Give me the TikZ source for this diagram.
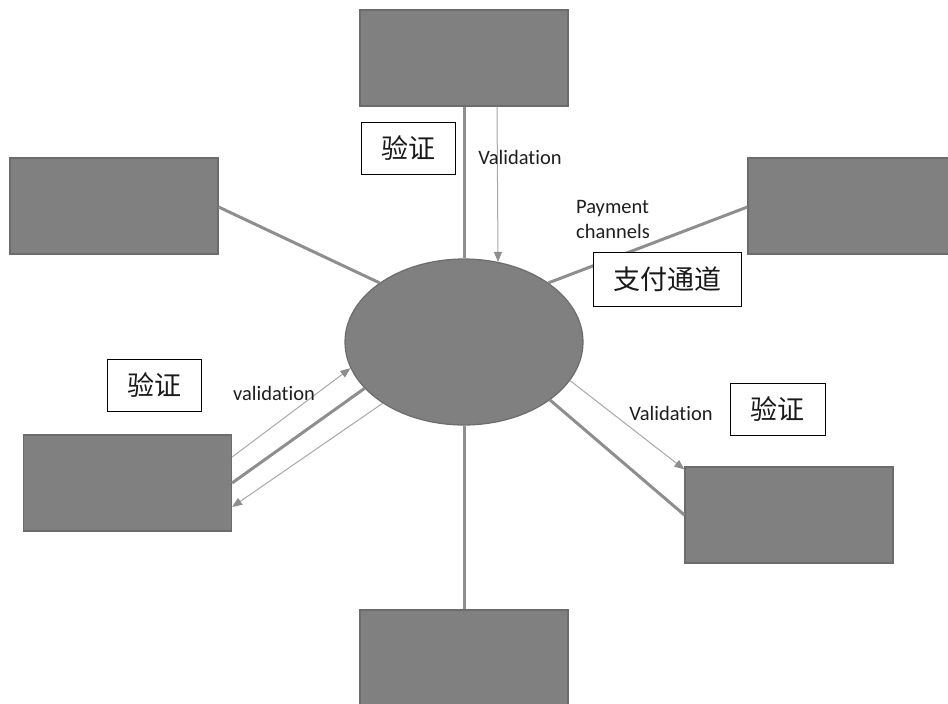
\documentclass[tikz,border=0pt]{standalone}
\usepackage{fontspec}
\setmainfont{Carlito}[Ligatures={NoCommon}]
\newfontfamily\cjk{Noto Sans CJK SC}
\usetikzlibrary{shapes.geometric,arrows.meta,calc}
\definecolor{boxfill}{HTML}{808080}
\definecolor{boxline}{HTML}{6C6C6C}
\definecolor{thickline}{HTML}{8E8E8E}
\definecolor{thinline}{HTML}{A8A8A8}
\tikzset{
  bigbox/.style={draw=boxline,line width=1.2pt,fill=boxfill,minimum width=208pt,minimum height=96pt,inner sep=0pt},
  hubshape/.style={ellipse,draw=boxline,line width=1.2pt,fill=boxfill,minimum width=238pt,minimum height=166pt,inner sep=0pt},
  labelbox/.style={draw=black,line width=0.9pt,fill=white,minimum height=52pt,inner sep=0pt,font=\cjk\fontsize{27}{30}\selectfont,text=black!90},
  thickconn/.style={draw=thickline,line width=3pt},
  thinconn/.style={draw=thinline,line width=1pt},
  thinarrow/.style={draw=thinline,line width=1pt,-{Triangle[length=10pt,width=8pt,fill=thickline,color=thickline]}},
  txt/.style={font=\fontsize{20.5}{25}\selectfont,text=black!88,inner sep=0pt}
}
\begin{document}
\begin{tikzpicture}[x=1pt,y=-1pt]
\useasboundingbox (0,0) rectangle (948,704);
\clip (0,0) rectangle (948,704);
\fill[white] (0,0) rectangle (948,704);
% nodes
\node[hubshape] (hub) at (464,342) {};
\node[bigbox] (top) at (464,58) {};
\node[bigbox] (lu) at (114,206) {};
\node[bigbox] (ru) at (852,206) {};
\node[bigbox] (ll) at (127.5,483) {};
\node[bigbox] (rl) at (789,515) {};
\node[bigbox] (bot) at (464,658) {};
% connectors
\draw[thickconn] (top.south) -- (hub.north);
\draw[thinarrow] ([xshift=33pt]top.south) -- (hub.67.6);
\draw[thickconn] ([yshift=-1pt]lu.east) -- (hub.145.6);
\draw[thickconn] ([yshift=-1pt]ru.west) -- (hub.35.1);
\draw[thinarrow] ([yshift=26pt]ll.east) -- (hub.193.5);
\draw[thickconn] (ll.east) -- (hub.205.1);
\draw[thinarrow] (hub.217.4) -- ([yshift=-24pt]ll.east);
\draw[thinarrow] (hub.-20.7) -- ([yshift=-3pt]rl.north west);
\draw[thickconn] (hub.-34.6) -- (rl.west);
\draw[thickconn] (hub.south) -- (bot.north);
% texts
\node[txt] (t1) at (520,157) {Validation};
\node[txt,align=left] (t2) at (613,219) {Payment\\channels};
\node[txt] (t3) at (274,393) {validation};
\node[txt] (t4) at (671,413) {Validation};
\node[labelbox,minimum width=94pt] (l1) at (408,148) {验证};
\node[labelbox,minimum width=148pt,minimum height=54pt] (l2) at (667,279) {支付通道};
\node[labelbox,minimum width=95pt] (l3) at (777.5,409) {验证};
\node[labelbox,minimum width=94pt] (l4) at (154,385) {验证};
\end{tikzpicture}
\end{document}
